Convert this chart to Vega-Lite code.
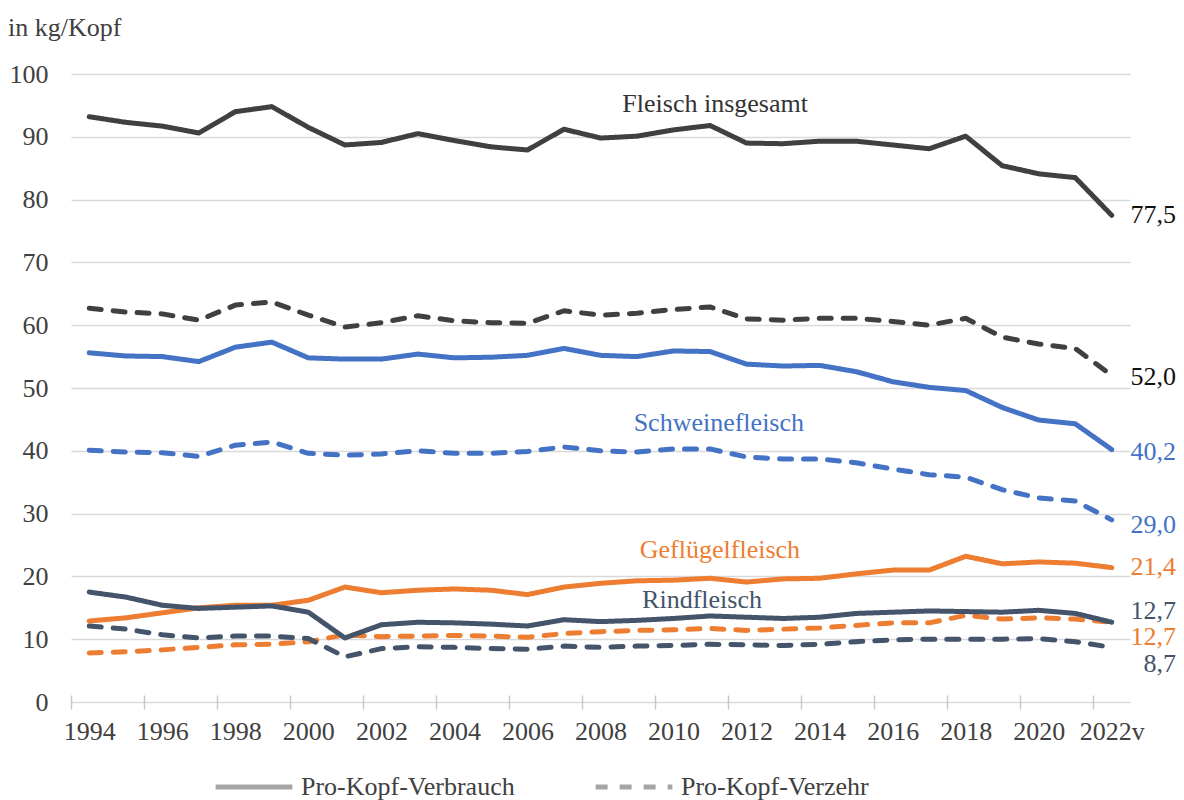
{
  "$schema": "https://vega.github.io/schema/vega-lite/v6.json",
  "autosize": {"type": "none"},
  "width": 1059,
  "height": 628,
  "padding": {"left": 71, "top": 74, "right": 54, "bottom": 98},
  "background": "white",
  "config": {"view": {"stroke": null}, "font": "Liberation Serif, Times New Roman, serif", "axis": {"labelFont": "Liberation Serif, Times New Roman, serif"}, "legend": {"labelFont": "Liberation Serif, Times New Roman, serif"}, "text": {"font": "Liberation Serif, Times New Roman, serif"}},
  "title": {"text": "in kg/Kopf", "anchor": "start", "dx": -1, "offset": 20, "fontSize": 26, "font": "Liberation Serif, Times New Roman, serif", "fontWeight": "normal", "color": "#404040"},
  "datasets": {
    "series": [
      {"year":1994,"series":"Fleisch insgesamt","type":"Pro-Kopf-Verbrauch","value":93.2},
      {"year":1995,"series":"Fleisch insgesamt","type":"Pro-Kopf-Verbrauch","value":92.3},
      {"year":1996,"series":"Fleisch insgesamt","type":"Pro-Kopf-Verbrauch","value":91.7},
      {"year":1997,"series":"Fleisch insgesamt","type":"Pro-Kopf-Verbrauch","value":90.6},
      {"year":1998,"series":"Fleisch insgesamt","type":"Pro-Kopf-Verbrauch","value":94.0},
      {"year":1999,"series":"Fleisch insgesamt","type":"Pro-Kopf-Verbrauch","value":94.8},
      {"year":2000,"series":"Fleisch insgesamt","type":"Pro-Kopf-Verbrauch","value":91.5},
      {"year":2001,"series":"Fleisch insgesamt","type":"Pro-Kopf-Verbrauch","value":88.7},
      {"year":2002,"series":"Fleisch insgesamt","type":"Pro-Kopf-Verbrauch","value":89.1},
      {"year":2003,"series":"Fleisch insgesamt","type":"Pro-Kopf-Verbrauch","value":90.5},
      {"year":2004,"series":"Fleisch insgesamt","type":"Pro-Kopf-Verbrauch","value":89.4},
      {"year":2005,"series":"Fleisch insgesamt","type":"Pro-Kopf-Verbrauch","value":88.4},
      {"year":2006,"series":"Fleisch insgesamt","type":"Pro-Kopf-Verbrauch","value":87.9},
      {"year":2007,"series":"Fleisch insgesamt","type":"Pro-Kopf-Verbrauch","value":91.2},
      {"year":2008,"series":"Fleisch insgesamt","type":"Pro-Kopf-Verbrauch","value":89.8},
      {"year":2009,"series":"Fleisch insgesamt","type":"Pro-Kopf-Verbrauch","value":90.1},
      {"year":2010,"series":"Fleisch insgesamt","type":"Pro-Kopf-Verbrauch","value":91.1},
      {"year":2011,"series":"Fleisch insgesamt","type":"Pro-Kopf-Verbrauch","value":91.8},
      {"year":2012,"series":"Fleisch insgesamt","type":"Pro-Kopf-Verbrauch","value":89.0},
      {"year":2013,"series":"Fleisch insgesamt","type":"Pro-Kopf-Verbrauch","value":88.9},
      {"year":2014,"series":"Fleisch insgesamt","type":"Pro-Kopf-Verbrauch","value":89.3},
      {"year":2015,"series":"Fleisch insgesamt","type":"Pro-Kopf-Verbrauch","value":89.3},
      {"year":2016,"series":"Fleisch insgesamt","type":"Pro-Kopf-Verbrauch","value":88.7},
      {"year":2017,"series":"Fleisch insgesamt","type":"Pro-Kopf-Verbrauch","value":88.1},
      {"year":2018,"series":"Fleisch insgesamt","type":"Pro-Kopf-Verbrauch","value":90.1},
      {"year":2019,"series":"Fleisch insgesamt","type":"Pro-Kopf-Verbrauch","value":85.4},
      {"year":2020,"series":"Fleisch insgesamt","type":"Pro-Kopf-Verbrauch","value":84.1},
      {"year":2021,"series":"Fleisch insgesamt","type":"Pro-Kopf-Verbrauch","value":83.5},
      {"year":2022,"series":"Fleisch insgesamt","type":"Pro-Kopf-Verbrauch","value":77.5},
      {"year":1994,"series":"Fleisch insgesamt","type":"Pro-Kopf-Verzehr","value":62.7},
      {"year":1995,"series":"Fleisch insgesamt","type":"Pro-Kopf-Verzehr","value":62.1},
      {"year":1996,"series":"Fleisch insgesamt","type":"Pro-Kopf-Verzehr","value":61.8},
      {"year":1997,"series":"Fleisch insgesamt","type":"Pro-Kopf-Verzehr","value":60.8},
      {"year":1998,"series":"Fleisch insgesamt","type":"Pro-Kopf-Verzehr","value":63.2},
      {"year":1999,"series":"Fleisch insgesamt","type":"Pro-Kopf-Verzehr","value":63.7},
      {"year":2000,"series":"Fleisch insgesamt","type":"Pro-Kopf-Verzehr","value":61.6},
      {"year":2001,"series":"Fleisch insgesamt","type":"Pro-Kopf-Verzehr","value":59.7},
      {"year":2002,"series":"Fleisch insgesamt","type":"Pro-Kopf-Verzehr","value":60.4},
      {"year":2003,"series":"Fleisch insgesamt","type":"Pro-Kopf-Verzehr","value":61.5},
      {"year":2004,"series":"Fleisch insgesamt","type":"Pro-Kopf-Verzehr","value":60.7},
      {"year":2005,"series":"Fleisch insgesamt","type":"Pro-Kopf-Verzehr","value":60.4},
      {"year":2006,"series":"Fleisch insgesamt","type":"Pro-Kopf-Verzehr","value":60.3},
      {"year":2007,"series":"Fleisch insgesamt","type":"Pro-Kopf-Verzehr","value":62.3},
      {"year":2008,"series":"Fleisch insgesamt","type":"Pro-Kopf-Verzehr","value":61.6},
      {"year":2009,"series":"Fleisch insgesamt","type":"Pro-Kopf-Verzehr","value":61.9},
      {"year":2010,"series":"Fleisch insgesamt","type":"Pro-Kopf-Verzehr","value":62.5},
      {"year":2011,"series":"Fleisch insgesamt","type":"Pro-Kopf-Verzehr","value":62.9},
      {"year":2012,"series":"Fleisch insgesamt","type":"Pro-Kopf-Verzehr","value":61.0},
      {"year":2013,"series":"Fleisch insgesamt","type":"Pro-Kopf-Verzehr","value":60.8},
      {"year":2014,"series":"Fleisch insgesamt","type":"Pro-Kopf-Verzehr","value":61.1},
      {"year":2015,"series":"Fleisch insgesamt","type":"Pro-Kopf-Verzehr","value":61.1},
      {"year":2016,"series":"Fleisch insgesamt","type":"Pro-Kopf-Verzehr","value":60.6},
      {"year":2017,"series":"Fleisch insgesamt","type":"Pro-Kopf-Verzehr","value":60.0},
      {"year":2018,"series":"Fleisch insgesamt","type":"Pro-Kopf-Verzehr","value":61.1},
      {"year":2019,"series":"Fleisch insgesamt","type":"Pro-Kopf-Verzehr","value":58.1},
      {"year":2020,"series":"Fleisch insgesamt","type":"Pro-Kopf-Verzehr","value":57.0},
      {"year":2021,"series":"Fleisch insgesamt","type":"Pro-Kopf-Verzehr","value":56.3},
      {"year":2022,"series":"Fleisch insgesamt","type":"Pro-Kopf-Verzehr","value":52.0},
      {"year":1994,"series":"Schweinefleisch","type":"Pro-Kopf-Verbrauch","value":55.6},
      {"year":1995,"series":"Schweinefleisch","type":"Pro-Kopf-Verbrauch","value":55.1},
      {"year":1996,"series":"Schweinefleisch","type":"Pro-Kopf-Verbrauch","value":55.0},
      {"year":1997,"series":"Schweinefleisch","type":"Pro-Kopf-Verbrauch","value":54.2},
      {"year":1998,"series":"Schweinefleisch","type":"Pro-Kopf-Verbrauch","value":56.5},
      {"year":1999,"series":"Schweinefleisch","type":"Pro-Kopf-Verbrauch","value":57.3},
      {"year":2000,"series":"Schweinefleisch","type":"Pro-Kopf-Verbrauch","value":54.8},
      {"year":2001,"series":"Schweinefleisch","type":"Pro-Kopf-Verbrauch","value":54.6},
      {"year":2002,"series":"Schweinefleisch","type":"Pro-Kopf-Verbrauch","value":54.6},
      {"year":2003,"series":"Schweinefleisch","type":"Pro-Kopf-Verbrauch","value":55.4},
      {"year":2004,"series":"Schweinefleisch","type":"Pro-Kopf-Verbrauch","value":54.8},
      {"year":2005,"series":"Schweinefleisch","type":"Pro-Kopf-Verbrauch","value":54.9},
      {"year":2006,"series":"Schweinefleisch","type":"Pro-Kopf-Verbrauch","value":55.2},
      {"year":2007,"series":"Schweinefleisch","type":"Pro-Kopf-Verbrauch","value":56.3},
      {"year":2008,"series":"Schweinefleisch","type":"Pro-Kopf-Verbrauch","value":55.2},
      {"year":2009,"series":"Schweinefleisch","type":"Pro-Kopf-Verbrauch","value":55.0},
      {"year":2010,"series":"Schweinefleisch","type":"Pro-Kopf-Verbrauch","value":55.9},
      {"year":2011,"series":"Schweinefleisch","type":"Pro-Kopf-Verbrauch","value":55.8},
      {"year":2012,"series":"Schweinefleisch","type":"Pro-Kopf-Verbrauch","value":53.8},
      {"year":2013,"series":"Schweinefleisch","type":"Pro-Kopf-Verbrauch","value":53.5},
      {"year":2014,"series":"Schweinefleisch","type":"Pro-Kopf-Verbrauch","value":53.6},
      {"year":2015,"series":"Schweinefleisch","type":"Pro-Kopf-Verbrauch","value":52.6},
      {"year":2016,"series":"Schweinefleisch","type":"Pro-Kopf-Verbrauch","value":51.0},
      {"year":2017,"series":"Schweinefleisch","type":"Pro-Kopf-Verbrauch","value":50.1},
      {"year":2018,"series":"Schweinefleisch","type":"Pro-Kopf-Verbrauch","value":49.6},
      {"year":2019,"series":"Schweinefleisch","type":"Pro-Kopf-Verbrauch","value":46.9},
      {"year":2020,"series":"Schweinefleisch","type":"Pro-Kopf-Verbrauch","value":44.9},
      {"year":2021,"series":"Schweinefleisch","type":"Pro-Kopf-Verbrauch","value":44.3},
      {"year":2022,"series":"Schweinefleisch","type":"Pro-Kopf-Verbrauch","value":40.2},
      {"year":1994,"series":"Schweinefleisch","type":"Pro-Kopf-Verzehr","value":40.1},
      {"year":1995,"series":"Schweinefleisch","type":"Pro-Kopf-Verzehr","value":39.8},
      {"year":1996,"series":"Schweinefleisch","type":"Pro-Kopf-Verzehr","value":39.7},
      {"year":1997,"series":"Schweinefleisch","type":"Pro-Kopf-Verzehr","value":39.1},
      {"year":1998,"series":"Schweinefleisch","type":"Pro-Kopf-Verzehr","value":40.9},
      {"year":1999,"series":"Schweinefleisch","type":"Pro-Kopf-Verzehr","value":41.4},
      {"year":2000,"series":"Schweinefleisch","type":"Pro-Kopf-Verzehr","value":39.6},
      {"year":2001,"series":"Schweinefleisch","type":"Pro-Kopf-Verzehr","value":39.3},
      {"year":2002,"series":"Schweinefleisch","type":"Pro-Kopf-Verzehr","value":39.5},
      {"year":2003,"series":"Schweinefleisch","type":"Pro-Kopf-Verzehr","value":40.0},
      {"year":2004,"series":"Schweinefleisch","type":"Pro-Kopf-Verzehr","value":39.6},
      {"year":2005,"series":"Schweinefleisch","type":"Pro-Kopf-Verzehr","value":39.6},
      {"year":2006,"series":"Schweinefleisch","type":"Pro-Kopf-Verzehr","value":39.9},
      {"year":2007,"series":"Schweinefleisch","type":"Pro-Kopf-Verzehr","value":40.6},
      {"year":2008,"series":"Schweinefleisch","type":"Pro-Kopf-Verzehr","value":40.0},
      {"year":2009,"series":"Schweinefleisch","type":"Pro-Kopf-Verzehr","value":39.8},
      {"year":2010,"series":"Schweinefleisch","type":"Pro-Kopf-Verzehr","value":40.3},
      {"year":2011,"series":"Schweinefleisch","type":"Pro-Kopf-Verzehr","value":40.3},
      {"year":2012,"series":"Schweinefleisch","type":"Pro-Kopf-Verzehr","value":39.0},
      {"year":2013,"series":"Schweinefleisch","type":"Pro-Kopf-Verzehr","value":38.7},
      {"year":2014,"series":"Schweinefleisch","type":"Pro-Kopf-Verzehr","value":38.7},
      {"year":2015,"series":"Schweinefleisch","type":"Pro-Kopf-Verzehr","value":38.1},
      {"year":2016,"series":"Schweinefleisch","type":"Pro-Kopf-Verzehr","value":37.1},
      {"year":2017,"series":"Schweinefleisch","type":"Pro-Kopf-Verzehr","value":36.2},
      {"year":2018,"series":"Schweinefleisch","type":"Pro-Kopf-Verzehr","value":35.8},
      {"year":2019,"series":"Schweinefleisch","type":"Pro-Kopf-Verzehr","value":33.8},
      {"year":2020,"series":"Schweinefleisch","type":"Pro-Kopf-Verzehr","value":32.5},
      {"year":2021,"series":"Schweinefleisch","type":"Pro-Kopf-Verzehr","value":32.0},
      {"year":2022,"series":"Schweinefleisch","type":"Pro-Kopf-Verzehr","value":29.0},
      {"year":1994,"series":"Geflügelfleisch","type":"Pro-Kopf-Verbrauch","value":12.9},
      {"year":1995,"series":"Geflügelfleisch","type":"Pro-Kopf-Verbrauch","value":13.4},
      {"year":1996,"series":"Geflügelfleisch","type":"Pro-Kopf-Verbrauch","value":14.2},
      {"year":1997,"series":"Geflügelfleisch","type":"Pro-Kopf-Verbrauch","value":15.0},
      {"year":1998,"series":"Geflügelfleisch","type":"Pro-Kopf-Verbrauch","value":15.4},
      {"year":1999,"series":"Geflügelfleisch","type":"Pro-Kopf-Verbrauch","value":15.4},
      {"year":2000,"series":"Geflügelfleisch","type":"Pro-Kopf-Verbrauch","value":16.2},
      {"year":2001,"series":"Geflügelfleisch","type":"Pro-Kopf-Verbrauch","value":18.3},
      {"year":2002,"series":"Geflügelfleisch","type":"Pro-Kopf-Verbrauch","value":17.4},
      {"year":2003,"series":"Geflügelfleisch","type":"Pro-Kopf-Verbrauch","value":17.8},
      {"year":2004,"series":"Geflügelfleisch","type":"Pro-Kopf-Verbrauch","value":18.0},
      {"year":2005,"series":"Geflügelfleisch","type":"Pro-Kopf-Verbrauch","value":17.8},
      {"year":2006,"series":"Geflügelfleisch","type":"Pro-Kopf-Verbrauch","value":17.1},
      {"year":2007,"series":"Geflügelfleisch","type":"Pro-Kopf-Verbrauch","value":18.3},
      {"year":2008,"series":"Geflügelfleisch","type":"Pro-Kopf-Verbrauch","value":18.9},
      {"year":2009,"series":"Geflügelfleisch","type":"Pro-Kopf-Verbrauch","value":19.3},
      {"year":2010,"series":"Geflügelfleisch","type":"Pro-Kopf-Verbrauch","value":19.4},
      {"year":2011,"series":"Geflügelfleisch","type":"Pro-Kopf-Verbrauch","value":19.7},
      {"year":2012,"series":"Geflügelfleisch","type":"Pro-Kopf-Verbrauch","value":19.1},
      {"year":2013,"series":"Geflügelfleisch","type":"Pro-Kopf-Verbrauch","value":19.6},
      {"year":2014,"series":"Geflügelfleisch","type":"Pro-Kopf-Verbrauch","value":19.7},
      {"year":2015,"series":"Geflügelfleisch","type":"Pro-Kopf-Verbrauch","value":20.4},
      {"year":2016,"series":"Geflügelfleisch","type":"Pro-Kopf-Verbrauch","value":21.0},
      {"year":2017,"series":"Geflügelfleisch","type":"Pro-Kopf-Verbrauch","value":21.0},
      {"year":2018,"series":"Geflügelfleisch","type":"Pro-Kopf-Verbrauch","value":23.2},
      {"year":2019,"series":"Geflügelfleisch","type":"Pro-Kopf-Verbrauch","value":22.0},
      {"year":2020,"series":"Geflügelfleisch","type":"Pro-Kopf-Verbrauch","value":22.3},
      {"year":2021,"series":"Geflügelfleisch","type":"Pro-Kopf-Verbrauch","value":22.1},
      {"year":2022,"series":"Geflügelfleisch","type":"Pro-Kopf-Verbrauch","value":21.4},
      {"year":1994,"series":"Geflügelfleisch","type":"Pro-Kopf-Verzehr","value":7.8},
      {"year":1995,"series":"Geflügelfleisch","type":"Pro-Kopf-Verzehr","value":8.0},
      {"year":1996,"series":"Geflügelfleisch","type":"Pro-Kopf-Verzehr","value":8.3},
      {"year":1997,"series":"Geflügelfleisch","type":"Pro-Kopf-Verzehr","value":8.7},
      {"year":1998,"series":"Geflügelfleisch","type":"Pro-Kopf-Verzehr","value":9.1},
      {"year":1999,"series":"Geflügelfleisch","type":"Pro-Kopf-Verzehr","value":9.2},
      {"year":2000,"series":"Geflügelfleisch","type":"Pro-Kopf-Verzehr","value":9.6},
      {"year":2001,"series":"Geflügelfleisch","type":"Pro-Kopf-Verzehr","value":10.7},
      {"year":2002,"series":"Geflügelfleisch","type":"Pro-Kopf-Verzehr","value":10.4},
      {"year":2003,"series":"Geflügelfleisch","type":"Pro-Kopf-Verzehr","value":10.5},
      {"year":2004,"series":"Geflügelfleisch","type":"Pro-Kopf-Verzehr","value":10.6},
      {"year":2005,"series":"Geflügelfleisch","type":"Pro-Kopf-Verzehr","value":10.5},
      {"year":2006,"series":"Geflügelfleisch","type":"Pro-Kopf-Verzehr","value":10.3},
      {"year":2007,"series":"Geflügelfleisch","type":"Pro-Kopf-Verzehr","value":10.9},
      {"year":2008,"series":"Geflügelfleisch","type":"Pro-Kopf-Verzehr","value":11.2},
      {"year":2009,"series":"Geflügelfleisch","type":"Pro-Kopf-Verzehr","value":11.4},
      {"year":2010,"series":"Geflügelfleisch","type":"Pro-Kopf-Verzehr","value":11.5},
      {"year":2011,"series":"Geflügelfleisch","type":"Pro-Kopf-Verzehr","value":11.7},
      {"year":2012,"series":"Geflügelfleisch","type":"Pro-Kopf-Verzehr","value":11.4},
      {"year":2013,"series":"Geflügelfleisch","type":"Pro-Kopf-Verzehr","value":11.6},
      {"year":2014,"series":"Geflügelfleisch","type":"Pro-Kopf-Verzehr","value":11.8},
      {"year":2015,"series":"Geflügelfleisch","type":"Pro-Kopf-Verzehr","value":12.2},
      {"year":2016,"series":"Geflügelfleisch","type":"Pro-Kopf-Verzehr","value":12.6},
      {"year":2017,"series":"Geflügelfleisch","type":"Pro-Kopf-Verzehr","value":12.6},
      {"year":2018,"series":"Geflügelfleisch","type":"Pro-Kopf-Verzehr","value":13.8},
      {"year":2019,"series":"Geflügelfleisch","type":"Pro-Kopf-Verzehr","value":13.2},
      {"year":2020,"series":"Geflügelfleisch","type":"Pro-Kopf-Verzehr","value":13.4},
      {"year":2021,"series":"Geflügelfleisch","type":"Pro-Kopf-Verzehr","value":13.2},
      {"year":2022,"series":"Geflügelfleisch","type":"Pro-Kopf-Verzehr","value":12.7},
      {"year":1994,"series":"Rindfleisch","type":"Pro-Kopf-Verbrauch","value":17.5},
      {"year":1995,"series":"Rindfleisch","type":"Pro-Kopf-Verbrauch","value":16.7},
      {"year":1996,"series":"Rindfleisch","type":"Pro-Kopf-Verbrauch","value":15.4},
      {"year":1997,"series":"Rindfleisch","type":"Pro-Kopf-Verbrauch","value":14.9},
      {"year":1998,"series":"Rindfleisch","type":"Pro-Kopf-Verbrauch","value":15.1},
      {"year":1999,"series":"Rindfleisch","type":"Pro-Kopf-Verbrauch","value":15.3},
      {"year":2000,"series":"Rindfleisch","type":"Pro-Kopf-Verbrauch","value":14.3},
      {"year":2001,"series":"Rindfleisch","type":"Pro-Kopf-Verbrauch","value":10.2},
      {"year":2002,"series":"Rindfleisch","type":"Pro-Kopf-Verbrauch","value":12.3},
      {"year":2003,"series":"Rindfleisch","type":"Pro-Kopf-Verbrauch","value":12.7},
      {"year":2004,"series":"Rindfleisch","type":"Pro-Kopf-Verbrauch","value":12.6},
      {"year":2005,"series":"Rindfleisch","type":"Pro-Kopf-Verbrauch","value":12.4},
      {"year":2006,"series":"Rindfleisch","type":"Pro-Kopf-Verbrauch","value":12.1},
      {"year":2007,"series":"Rindfleisch","type":"Pro-Kopf-Verbrauch","value":13.1},
      {"year":2008,"series":"Rindfleisch","type":"Pro-Kopf-Verbrauch","value":12.8},
      {"year":2009,"series":"Rindfleisch","type":"Pro-Kopf-Verbrauch","value":13.0},
      {"year":2010,"series":"Rindfleisch","type":"Pro-Kopf-Verbrauch","value":13.3},
      {"year":2011,"series":"Rindfleisch","type":"Pro-Kopf-Verbrauch","value":13.7},
      {"year":2012,"series":"Rindfleisch","type":"Pro-Kopf-Verbrauch","value":13.5},
      {"year":2013,"series":"Rindfleisch","type":"Pro-Kopf-Verbrauch","value":13.3},
      {"year":2014,"series":"Rindfleisch","type":"Pro-Kopf-Verbrauch","value":13.5},
      {"year":2015,"series":"Rindfleisch","type":"Pro-Kopf-Verbrauch","value":14.1},
      {"year":2016,"series":"Rindfleisch","type":"Pro-Kopf-Verbrauch","value":14.3},
      {"year":2017,"series":"Rindfleisch","type":"Pro-Kopf-Verbrauch","value":14.5},
      {"year":2018,"series":"Rindfleisch","type":"Pro-Kopf-Verbrauch","value":14.4},
      {"year":2019,"series":"Rindfleisch","type":"Pro-Kopf-Verbrauch","value":14.3},
      {"year":2020,"series":"Rindfleisch","type":"Pro-Kopf-Verbrauch","value":14.6},
      {"year":2021,"series":"Rindfleisch","type":"Pro-Kopf-Verbrauch","value":14.1},
      {"year":2022,"series":"Rindfleisch","type":"Pro-Kopf-Verbrauch","value":12.7},
      {"year":1994,"series":"Rindfleisch","type":"Pro-Kopf-Verzehr","value":12.1},
      {"year":1995,"series":"Rindfleisch","type":"Pro-Kopf-Verzehr","value":11.6},
      {"year":1996,"series":"Rindfleisch","type":"Pro-Kopf-Verzehr","value":10.7},
      {"year":1997,"series":"Rindfleisch","type":"Pro-Kopf-Verzehr","value":10.2},
      {"year":1998,"series":"Rindfleisch","type":"Pro-Kopf-Verzehr","value":10.5},
      {"year":1999,"series":"Rindfleisch","type":"Pro-Kopf-Verzehr","value":10.5},
      {"year":2000,"series":"Rindfleisch","type":"Pro-Kopf-Verzehr","value":10.1},
      {"year":2001,"series":"Rindfleisch","type":"Pro-Kopf-Verzehr","value":7.2},
      {"year":2002,"series":"Rindfleisch","type":"Pro-Kopf-Verzehr","value":8.5},
      {"year":2003,"series":"Rindfleisch","type":"Pro-Kopf-Verzehr","value":8.8},
      {"year":2004,"series":"Rindfleisch","type":"Pro-Kopf-Verzehr","value":8.7},
      {"year":2005,"series":"Rindfleisch","type":"Pro-Kopf-Verzehr","value":8.5},
      {"year":2006,"series":"Rindfleisch","type":"Pro-Kopf-Verzehr","value":8.4},
      {"year":2007,"series":"Rindfleisch","type":"Pro-Kopf-Verzehr","value":8.9},
      {"year":2008,"series":"Rindfleisch","type":"Pro-Kopf-Verzehr","value":8.7},
      {"year":2009,"series":"Rindfleisch","type":"Pro-Kopf-Verzehr","value":8.9},
      {"year":2010,"series":"Rindfleisch","type":"Pro-Kopf-Verzehr","value":9.0},
      {"year":2011,"series":"Rindfleisch","type":"Pro-Kopf-Verzehr","value":9.2},
      {"year":2012,"series":"Rindfleisch","type":"Pro-Kopf-Verzehr","value":9.1},
      {"year":2013,"series":"Rindfleisch","type":"Pro-Kopf-Verzehr","value":9.0},
      {"year":2014,"series":"Rindfleisch","type":"Pro-Kopf-Verzehr","value":9.2},
      {"year":2015,"series":"Rindfleisch","type":"Pro-Kopf-Verzehr","value":9.6},
      {"year":2016,"series":"Rindfleisch","type":"Pro-Kopf-Verzehr","value":9.9},
      {"year":2017,"series":"Rindfleisch","type":"Pro-Kopf-Verzehr","value":10.0},
      {"year":2018,"series":"Rindfleisch","type":"Pro-Kopf-Verzehr","value":10.0},
      {"year":2019,"series":"Rindfleisch","type":"Pro-Kopf-Verzehr","value":10.0},
      {"year":2020,"series":"Rindfleisch","type":"Pro-Kopf-Verzehr","value":10.1},
      {"year":2021,"series":"Rindfleisch","type":"Pro-Kopf-Verzehr","value":9.6},
      {"year":2022,"series":"Rindfleisch","type":"Pro-Kopf-Verzehr","value":8.7}
    ],
    "names": [
      {"label":"Fleisch insgesamt","series":"Fleisch insgesamt","year":2011.14,"value":95.2},
      {"label":"Schweinefleisch","series":"Schweinefleisch","year":2011.24,"value":44.4},
      {"label":"Geflügelfleisch","series":"Geflügelfleisch","year":2011.27,"value":24.2},
      {"label":"Rindfleisch","series":"Rindfleisch","year":2010.78,"value":16.2}
    ],
    "ends": [
      {"label":"77,5","series":"Fleisch insgesamt","year":2023.76,"value":77.5},
      {"label":"52,0","series":"Fleisch insgesamt","year":2023.76,"value":51.75},
      {"label":"40,2","series":"Schweinefleisch","year":2023.76,"value":39.8},
      {"label":"29,0","series":"Schweinefleisch","year":2023.76,"value":28.2},
      {"label":"21,4","series":"Geflügelfleisch","year":2023.76,"value":21.5},
      {"label":"12,7","series":"Rindfleisch","year":2023.76,"value":14.5},
      {"label":"12,7","series":"Geflügelfleisch","year":2023.76,"value":10.35},
      {"label":"8,7","series":"Rindfleisch","year":2023.76,"value":6.05}
    ]
  },
  "resolve": {"scale": {"color": "independent"}},
  "layer": [
    {
      "data": {"name": "series"},
      "mark": {"type": "line", "strokeWidth": 5, "strokeCap": "round", "strokeJoin": "round"},
      "encoding": {
        "x": {
          "field": "year", "type": "quantitative",
          "scale": {"domain": [1993.5, 2022.5], "nice": false, "zero": false},
          "axis": {
            "title": null, "grid": false, "domain": false, "offset": -7,
            "values": [1993.5,1994.5,1995.5,1996.5,1997.5,1998.5,1999.5,2000.5,2001.5,2002.5,2003.5,2004.5,2005.5,2006.5,2007.5,2008.5,2009.5,2010.5,2011.5,2012.5,2013.5,2014.5,2015.5,2016.5,2017.5,2018.5,2019.5,2020.5,2021.5,2022.5],
            "labelExpr": "(datum.value + 0.5) % 2 == 0 ? ((datum.value + 0.5) == 2022 ? '2022v' : '' + (datum.value + 0.5)) : ''",
            "labelOffset": 18.26, "labelOverlap": false, "labelFlush": false, "labelBound": false,
            "labelFont": "Liberation Serif, Times New Roman, serif", "labelFontSize": 26, "labelColor": "#404040", "labelPadding": 9,
            "ticks": true, "tickColor": "#C8C8C8", "tickWidth": 1.5, "tickSize": 14
          }
        },
        "y": {
          "field": "value", "type": "quantitative",
          "scale": {"domain": [0, 100], "nice": false},
          "axis": {
            "title": null, "values": [0,10,20,30,40,50,60,70,80,90,100],
            "domain": false, "ticks": false, "grid": true, "gridColor": "#D9D9D9", "gridWidth": 1.5,
            "labelFont": "Liberation Serif, Times New Roman, serif", "labelFontSize": 26, "labelColor": "#404040", "labelPadding": 23
          }
        },
        "color": {
          "field": "series", "type": "nominal",
          "scale": {"domain": ["Fleisch insgesamt","Schweinefleisch","Geflügelfleisch","Rindfleisch"], "range": ["#404040","#4472C4","#ED7D31","#44546A"]},
          "legend": null
        },
        "strokeDash": {
          "field": "type", "type": "nominal",
          "scale": {"domain": ["Pro-Kopf-Verbrauch","Pro-Kopf-Verzehr"], "range": [[1,0],[12,12]]},
          "legend": {
            "title": null, "orient": "none", "legendX": 142, "legendY": 672, "direction": "horizontal",
            "symbolType": "stroke", "symbolSize": 5900, "symbolStrokeWidth": 5, "symbolStrokeColor": "#A6A6A6",
            "labelFont": "Liberation Serif, Times New Roman, serif", "labelFontSize": 26, "labelColor": "#404040", "labelOffset": 6, "labelLimit": 400, "columnPadding": 70
          }
        }
      }
    },
    {
      "data": {"name": "names"},
      "mark": {"type": "text", "align": "center", "baseline": "middle", "font": "Liberation Serif, Times New Roman, serif", "fontSize": 26},
      "encoding": {
        "x": {"field": "year", "type": "quantitative"},
        "y": {"field": "value", "type": "quantitative"},
        "text": {"field": "label"},
        "color": {
          "field": "series", "type": "nominal",
          "scale": {"domain": ["Fleisch insgesamt","Schweinefleisch","Geflügelfleisch","Rindfleisch"], "range": ["#333333","#4472C4","#ED7D31","#44546A"]},
          "legend": null
        }
      }
    },
    {
      "data": {"name": "ends"},
      "mark": {"type": "text", "align": "right", "baseline": "middle", "font": "Liberation Serif, Times New Roman, serif", "fontSize": 26},
      "encoding": {
        "x": {"field": "year", "type": "quantitative"},
        "y": {"field": "value", "type": "quantitative"},
        "text": {"field": "label"},
        "color": {
          "field": "series", "type": "nominal",
          "scale": {"domain": ["Fleisch insgesamt","Schweinefleisch","Geflügelfleisch","Rindfleisch"], "range": ["#111111","#4472C4","#ED7D31","#44546A"]},
          "legend": null
        }
      }
    }
  ]
}
